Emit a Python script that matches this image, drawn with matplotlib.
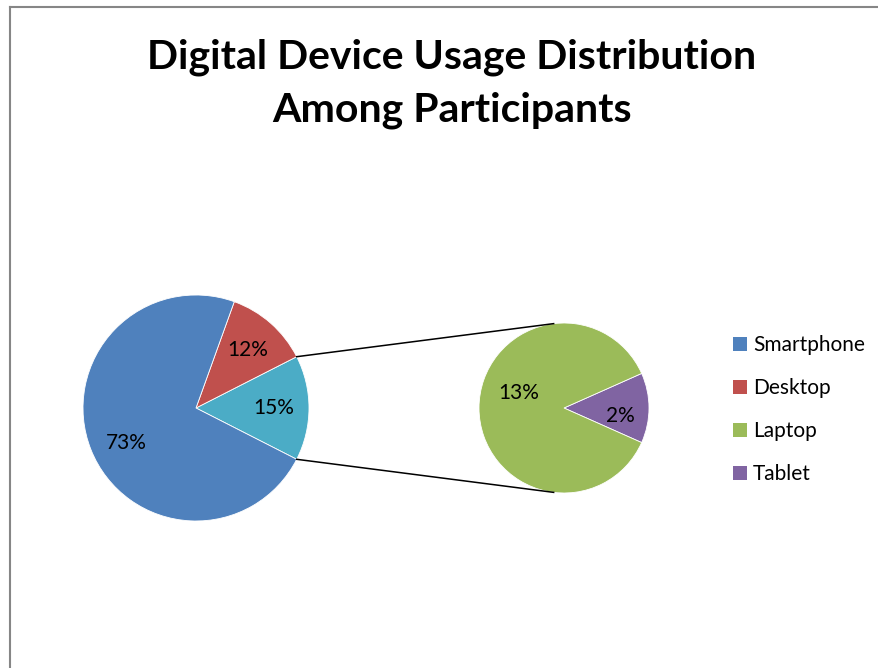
import numpy as np
import matplotlib.pyplot as plt
from matplotlib.lines import Line2D
from matplotlib.patches import Patch

# shares of participants (percent)
main_labels = ["Other", "Desktop", "Smartphone"]
main_values = [15, 12, 73]
main_colors = ["#4BACC6", "#C0504D", "#4F81BD"]

sub_labels = ["Tablet", "Laptop"]
sub_values = [2, 13]
sub_colors = ["#8064A2", "#9BBB59"]

legend_labels = ["Smartphone", "Desktop", "Laptop", "Tablet"]
legend_colors = ["#4F81BD", "#C0504D", "#9BBB59", "#8064A2"]

W, H = 879, 668
fig = plt.figure(figsize=(W / 100, H / 100), dpi=100)
ax = fig.add_axes([0, 0, 1, 1])

font = "Lato"

# main pie, the "other" slice centred on the right
c1, r1 = (196, H - 408), 113
start1 = -main_values[0] / sum(main_values) * 360 / 2
w1, _ = ax.pie(main_values, colors=main_colors, startangle=start1, center=c1,
               radius=r1, wedgeprops=dict(edgecolor="white", linewidth=0.6),
               frame=True)

# secondary pie breaking down the "other" slice
c2, r2 = (564, H - 408), 85
start2 = -sub_values[0] / sum(sub_values) * 360 / 2
w2, _ = ax.pie(sub_values, colors=sub_colors, startangle=start2, center=c2,
               radius=r2, wedgeprops=dict(edgecolor="white", linewidth=0.6),
               frame=True)
ax.set_xlim(0, W)
ax.set_ylim(0, H)
ax.set_aspect("equal")
ax.axis("off")


def put_label(wedge, value, dist, shift=0):
    ang = np.deg2rad((wedge.theta1 + wedge.theta2) / 2 + shift)
    cx, cy = wedge.center
    ax.text(cx + dist * wedge.r * np.cos(ang), cy + dist * wedge.r * np.sin(ang),
            f"{value:.0f}%", ha="center", va="center", fontsize=15,
            family=font)


for w, v, s in zip(w1, main_values, [0, 0, 5]):
    put_label(w, v, 0.69, shift=s)
for w, v, d, s in zip(w2, sub_values, [0.67, 0.56], [-8, -18]):
    put_label(w, v, d, shift=s)

# connector lines between the two pies
other = w1[0]
for a1, a2 in [(other.theta2, 97), (other.theta1, -97)]:
    p = (c1[0] + r1 * np.cos(np.deg2rad(a1)), c1[1] + r1 * np.sin(np.deg2rad(a1)))
    q = (c2[0] + r2 * np.cos(np.deg2rad(a2)), c2[1] + r2 * np.sin(np.deg2rad(a2)))
    ax.plot([p[0], q[0]], [p[1], q[1]], color="black", lw=1.1)

handles = [Patch(facecolor=c, edgecolor="none") for c in legend_colors]
fig.legend(handles, legend_labels, loc="upper left",
           bbox_to_anchor=(723 / W, 1 - 325 / H), frameon=False,
           prop=dict(family=font, size=15), handlelength=0.65,
           handleheight=0.65, handletextpad=0.3, labelspacing=1.1,
           borderpad=0)

fig.text(452 / W, 1 - 84 / H, "Digital Device Usage Distribution\nAmong Participants",
         ha="center", va="center", fontsize=29.5, fontweight="bold", family=font,
         linespacing=1.5)

# chart area border (top and left edges visible)
fig.add_artist(Line2D([10 / W, 1], [1 - 7 / H, 1 - 7 / H], color="#868686", lw=1.5))
fig.add_artist(Line2D([10 / W, 10 / W], [0, 1 - 7 / H], color="#868686", lw=1.5))

fig.savefig("out.png", dpi=100)
